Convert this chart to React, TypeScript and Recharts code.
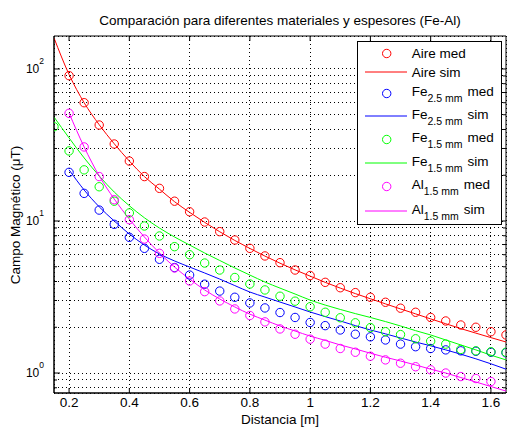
import React from 'react';
import { ComposedChart, Line, Scatter, XAxis, YAxis, CartesianGrid, Legend, ReferenceArea } from 'recharts';

const FONT = '"Liberation Sans", Arial, Helvetica, sans-serif';

// Distances (m)
const distance = [0.15, 0.2, 0.25, 0.3, 0.35, 0.4, 0.45, 0.5, 0.55, 0.6, 0.65, 0.7, 0.75, 0.8, 0.85, 0.9, 0.95, 1.0, 1.05, 1.1, 1.15, 1.2, 1.25, 1.3, 1.35, 1.4, 1.45, 1.5, 1.55, 1.6, 1.65];
const distFrom020 = distance.slice(1);
const distFrom020To160 = distance.slice(1, 30);

// Aire
const aireMed = [90.4, 60.0, 42.8, 32.1, 24.8, 19.6, 16.4, 13.5, 11.5, 9.85, 8.51, 7.5, 6.61, 5.89, 5.32, 4.76, 4.38, 3.95, 3.64, 3.38, 3.15, 2.92, 2.67, 2.51, 2.32, 2.2, 2.07, 2.0, 1.87, 1.78];
const aireSim = [160, 92, 60, 43, 32.2, 24.8, 19.6, 16.2, 13.4, 11.4, 9.8, 8.5, 7.45, 6.6, 5.88, 5.28, 4.77, 4.34, 3.95, 3.62, 3.33, 3.08, 2.85, 2.64, 2.45, 2.27, 2.11, 1.96, 1.83, 1.71, 1.6];
// Fe 2.5 mm
const fe25Med = [20.9, 15.2, 11.8, 9.51, 7.81, 6.61, 5.6, 4.94, 4.41, 3.84, 3.46, 3.15, 2.89, 2.68, 2.5, 2.32, 2.15, 2.05, 1.92, 1.8, 1.73, 1.65, 1.55, 1.49, 1.45, 1.42, 1.4, 1.39, 1.37, 1.36];
const fe25Sim = [21.7, 16.0, 12.4, 10.0, 8.21, 6.95, 6.07, 5.46, 4.98, 4.55, 4.15, 3.76, 3.41, 3.16, 2.93, 2.72, 2.52, 2.35, 2.2, 2.05, 1.92, 1.81, 1.7, 1.6, 1.51, 1.42, 1.33, 1.24, 1.15, 1.06];
// Fe 1.5 mm
const fe15Med = [41.7, 28.9, 21.7, 16.8, 13.5, 11.3, 9.27, 7.97, 6.78, 6.0, 5.29, 4.76, 4.25, 3.85, 3.52, 3.2, 2.97, 2.73, 2.51, 2.31, 2.14, 1.99, 1.87, 1.79, 1.68, 1.62, 1.55, 1.43, 1.4, 1.38, 1.37];
const fe15Sim = [48.3, 35.2, 26.0, 19.8, 15.5, 12.6, 10.5, 8.99, 7.85, 6.95, 6.16, 5.5, 4.91, 4.41, 3.97, 3.62, 3.31, 3.02, 2.8, 2.62, 2.46, 2.32, 2.18, 2.04, 1.9, 1.78, 1.65, 1.53, 1.42, 1.31, 1.22];
// Al 1.5 mm
const al15Med = [51.1, 30.7, 19.6, 13.8, 10.2, 7.61, 6.13, 4.91, 4.03, 3.43, 2.98, 2.64, 2.39, 2.17, 1.95, 1.8, 1.67, 1.55, 1.45, 1.37, 1.29, 1.22, 1.16, 1.1, 1.05, 1.0, 0.948, 0.92, 0.879];
const al15Sim = [51.3, 30.7, 19.8, 13.95, 10.3, 7.85, 6.16, 4.98, 4.15, 3.52, 3.07, 2.72, 2.44, 2.23, 2.04, 1.89, 1.75, 1.64, 1.53, 1.44, 1.35, 1.27, 1.2, 1.13, 1.06, 1.0, 0.934, 0.873, 0.815, 0.761];

const xTicks = [0.2, 0.4, 0.6, 0.8, 1, 1.2, 1.4, 1.6];
const yTicks = [0.8, 0.9, 1, 2, 3, 4, 5, 6, 7, 8, 9, 10, 20, 30, 40, 50, 60, 70, 80, 90, 100];
const X_DOMAIN: [number, number] = [0.15, 1.65];
const Y_DOMAIN: [number, number] = [0.739, 164.8];

const toPoints = (xs: number[], ys: number[]) => ys.map((y, i) => ({ x: xs[i], y }));

const series = [
  { key: 'aire', base: 'Aire', sub: '', color: '#ff0000', med: toPoints(distFrom020, aireMed), sim: toPoints(distance, aireSim) },
  { key: 'fe25', base: 'Fe', sub: '2.5 mm', color: '#0000ff', med: toPoints(distFrom020, fe25Med), sim: toPoints(distFrom020, fe25Sim) },
  { key: 'fe15', base: 'Fe', sub: '1.5 mm', color: '#00ff00', med: toPoints(distance, fe15Med), sim: toPoints(distance, fe15Sim) },
  { key: 'al15', base: 'Al', sub: '1.5 mm', color: '#ff00ff', med: toPoints(distFrom020To160, al15Med), sim: toPoints(distFrom020, al15Sim) },
];

// layout constants
const PLOT_TOP = 36;
const PLOT_RIGHT = 506;
const LEGEND_ROW_Y = [12.5, 31, 52.5, 75, 98.5, 122, 145.5, 170];

const XTick = (props: any) => {
  const { x, y, payload } = props;
  return (
    <g>
      <line x1={x} y1={y} x2={x} y2={y - 5} stroke="#000" strokeWidth={1} />
      <line x1={x} y1={PLOT_TOP} x2={x} y2={PLOT_TOP + 5} stroke="#000" strokeWidth={1} />
      <text x={x} y={y + 14} textAnchor="middle" fontSize={13.5} fontFamily={FONT} fill="#000">
        {String(payload.value)}
      </text>
    </g>
  );
};

const YTick = (props: any) => {
  const { x, y, payload } = props;
  const v = payload.value as number;
  const lg = Math.log10(v);
  const major = Math.abs(lg - Math.round(lg)) < 1e-9;
  const len = major ? 6 : 3;
  return (
    <g>
      <line x1={x} y1={y} x2={x + len} y2={y} stroke="#000" strokeWidth={1} />
      <line x1={PLOT_RIGHT - len} y1={y} x2={PLOT_RIGHT} y2={y} stroke="#000" strokeWidth={1} />
      {major && (
        <text x={x - 10} y={y + 4.3} textAnchor="end" fontSize={12} fontFamily={FONT} fill="#000">
          10
          <tspan dy={-9} fontSize={8.5}>{String(Math.round(lg))}</tspan>
        </text>
      )}
    </g>
  );
};

const makeCircle = (color: string) => (props: any) => (
  <circle cx={props.cx} cy={props.cy} r={4.2} fill="none" stroke={color} strokeWidth={1} />
);

const legendRows = series.flatMap((s) => [
  { base: s.base, sub: s.sub, kind: 'med', color: s.color, marker: true },
  { base: s.base, sub: s.sub, kind: 'sim', color: s.color, marker: false },
]);

const LegendContent = () => (
  <svg width={145} height={184} style={{ display: 'block' }}>
    <rect x={0.5} y={0.5} width={144} height={183} fill="#fff" stroke="#000" strokeWidth={1} />
    {legendRows.map((r, i) => {
      const cy = LEGEND_ROW_Y[i];
      return (
        <g key={i}>
          {r.marker ? (
            <circle cx={29.7} cy={cy} r={4.2} fill="none" stroke={r.color} strokeWidth={1} />
          ) : (
            <line x1={8} y1={cy} x2={50} y2={cy} stroke={r.color} strokeWidth={1} />
          )}
          {r.sub ? (
            <text x={54.7} y={cy + 2.8} fontSize={13.5} fontFamily={FONT} fill="#000">
              {r.base}
              <tspan dy={5.8} fontSize={10.5}>{r.sub}</tspan>
              <tspan dx={5} dy={-5.8}>{r.kind}</tspan>
            </text>
          ) : (
            <text x={54.7} y={cy + 4.8} fontSize={13.5} fontFamily={FONT} fill="#000">
              {r.base + ' ' + r.kind}
            </text>
          )}
        </g>
      );
    })}
  </svg>
);

export default function App() {
  return (
    <div style={{ position: 'absolute', left: 0, top: 0, width: 507, height: 429, fontFamily: FONT, background: '#fff' }}>
      <div style={{ position: 'absolute', left: 54, width: 452, top: 13.6, textAlign: 'center', fontSize: 13.5, lineHeight: '13.5px', whiteSpace: 'nowrap', color: '#000' }}>
        Comparación para diferentes materiales y espesores (Fe-Al)
      </div>
      <ComposedChart width={507} height={429} margin={{ top: 36, right: 1, bottom: 0, left: 0 }}>
        <CartesianGrid stroke="#000" strokeDasharray="1 3" strokeWidth={1} shapeRendering="crispEdges" />
        <XAxis
          type="number"
          dataKey="x"
          domain={X_DOMAIN}
          ticks={xTicks}
          interval={0}
          allowDataOverflow
          height={36}
          tickSize={0}
          tickMargin={0}
          tickLine={false}
          axisLine={{ stroke: '#000' }}
          tick={<XTick />}
        />
        <YAxis
          type="number"
          dataKey="y"
          scale="log"
          domain={Y_DOMAIN}
          ticks={yTicks}
          interval={0}
          allowDataOverflow
          width={54}
          tickSize={0}
          tickMargin={0}
          tickLine={false}
          axisLine={{ stroke: '#000' }}
          tick={<YTick />}
        />
        <ReferenceArea x1={X_DOMAIN[0]} x2={X_DOMAIN[1]} y1={Y_DOMAIN[0]} y2={Y_DOMAIN[1]} fill="none" stroke="#000" strokeWidth={1} ifOverflow="visible" />
        {series.map((s) => (
          <Scatter key={s.key + 'med'} name={s.base + ' med'} data={s.med} dataKey="y" shape={makeCircle(s.color)} isAnimationActive={false} />
        ))}
        {series.map((s) => (
          <Line key={s.key + 'sim'} name={s.base + ' sim'} data={s.sim} dataKey="y" type="monotone" stroke={s.color} strokeWidth={1} dot={false} activeDot={false} isAnimationActive={false} />
        ))}
        <Legend
          layout="vertical"
          align="center"
          verticalAlign="middle"
          width={145}
          height={184}
          wrapperStyle={{ left: 357, top: 41, width: 145, height: 184 }}
          content={<LegendContent />}
        />
      </ComposedChart>
      <div style={{ position: 'absolute', left: 54, width: 452, top: 413, textAlign: 'center', fontSize: 13.5, lineHeight: '13.5px', whiteSpace: 'nowrap', color: '#000' }}>
        Distancia [m]
      </div>
      <div style={{ position: 'absolute', left: 16 - 100, top: 214.5 - 8, width: 200, height: 16, lineHeight: '16px', textAlign: 'center', fontSize: 13.5, whiteSpace: 'nowrap', transform: 'rotate(-90deg)', color: '#000' }}>
        Campo Magnético (μT)
      </div>
    </div>
  );
}
